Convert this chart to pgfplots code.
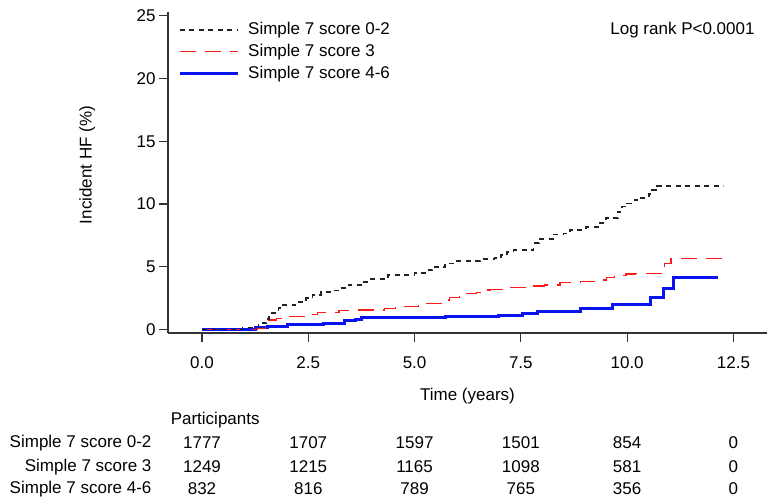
\documentclass[border=0pt]{standalone}
\usepackage{fontspec}
\setmainfont{Liberation Sans}
\usepackage{pgfplots}
\pgfplotsset{compat=1.18}
\definecolor{kmblack}{HTML}{222222}
\definecolor{kmred}{HTML}{FF1A1A}
\definecolor{kmblue}{HTML}{0A14F0}
\definecolor{axgrey}{HTML}{333333}

\begin{document}
\begin{tikzpicture}[font=\fontsize{17bp}{20bp}\selectfont]
\useasboundingbox (-168bp,-169bp) rectangle (599bp,333bp);
\begin{axis}[
  scale only axis,
  width=599bp, height=321bp,
  xmin=-0.8, xmax=13.29,
  ymin=-0.28, ymax=25.3,
  axis x line*=bottom, axis y line*=left,
  axis line style={axgrey, line width=1.1bp},
  tick style={axgrey, line width=1.1bp},
  tick align=outside,
  major tick length=9bp,
  xtick={0,2.5,5,7.5,10,12.5},
  ytick={0,5,10,15,20,25},
  x tick label style={/pgf/number format/fixed, /pgf/number format/fixed zerofill,
    /pgf/number format/precision=1, yshift=-11bp},
  /pgf/number format/assume math mode=true,
  clip=false,
  xlabel={Time (years)},
  ylabel={Incident HF (\%)},
  xlabel style={at={(axis description cs:0.5,-0.196)}, anchor=center},
  ylabel style={at={(axis description cs:-0.135,0.523)}, anchor=center},
  legend image code/.code={\draw[#1] (0bp,0bp) -- (58bp,0bp); \path (67bp,0bp);},
  legend style={at={(axis description cs:0.0167,0.972)}, anchor=north west,
    draw=none, fill=none, inner sep=0pt, row sep=5bp,
    nodes={inner sep=0pt, text height=13bp, text depth=4bp},
    cells={anchor=west}},
  reverse legend,
]
% Simple 7 score 4-6
\addplot[const plot, kmblue, line width=3bp] coordinates {
  (0,0) (1.25,0.12) (1.53,0.22) (2.0,0.36) (2.85,0.5) (3.36,0.68) (3.6,0.81)
  (3.76,0.94) (5.72,1.05) (6.97,1.15) (7.55,1.29) (7.88,1.42) (8.9,1.65)
  (9.65,2.0) (10.54,2.53) (10.85,3.23) (11.08,4.13) (12.14,4.13)};
% Simple 7 score 3
\addplot[const plot, kmred, line width=1.3bp, dash pattern=on 16bp off 9bp] coordinates {
  (0,0) (1.3,0.1) (1.5,0.2) (1.53,0.75) (1.75,0.9) (2.05,1.02) (2.58,1.2)
  (2.72,1.37) (3.22,1.5) (3.45,1.55) (4.3,1.69) (4.55,1.82) (5.1,2.09)
  (5.72,2.35) (5.82,2.57) (6.05,2.85) (6.45,2.93) (6.72,3.15) (6.78,3.2)
  (7.18,3.36) (7.72,3.47) (8.05,3.55) (8.42,3.73) (8.9,3.81) (9.26,3.94)
  (9.52,4.16) (9.7,4.29) (9.97,4.42) (10.2,4.48) (10.8,4.88) (10.88,5.27)
  (11.03,5.67) (12.26,5.67)};
% Simple 7 score 0-2
\addplot[const plot, kmblack, line width=1.7bp, dash pattern=on 5bp off 4.5bp] coordinates {
  (0,0) (0.95,0.15) (1.33,0.5) (1.52,0.85) (1.58,1.15) (1.65,1.3) (1.8,1.7)
  (1.9,1.95) (2.2,2.2) (2.45,2.5) (2.6,2.75) (2.8,2.96) (3.05,3.1) (3.2,3.28)
  (3.45,3.55) (3.78,3.8) (3.92,4.0) (4.38,4.34) (5.0,4.48) (5.28,4.74)
  (5.42,5.0) (5.72,5.27) (5.95,5.46) (6.55,5.6) (6.88,5.67) (7.03,5.94)
  (7.18,6.2) (7.33,6.33) (7.8,6.87) (7.92,7.2) (8.28,7.58) (8.5,7.66)
  (8.66,7.93) (9.03,8.14) (9.36,8.46) (9.5,8.86) (9.78,9.39) (9.88,9.8)
  (10.0,10.05) (10.17,10.3) (10.33,10.5) (10.52,10.8) (10.58,11.1)
  (10.7,11.46) (12.26,11.46)};
\legend{Simple 7 score 4-6, Simple 7 score 3, Simple 7 score 0-2}

\node[anchor=east] at (axis cs:13.08,23.86) {Log rank P<0.0001};

% numbers at risk
\node at (axis cs:0.31,-7.21) {Participants};
\node[anchor=east] at (axis cs:-1.106,-9.04) {Simple 7 score 0-2};
\node[anchor=east] at (axis cs:-1.106,-10.96) {Simple 7 score 3};
\node[anchor=east] at (axis cs:-1.106,-12.71) {Simple 7 score 4-6};
\node at (axis cs:0,-9.04) {1777};
\node at (axis cs:2.5,-9.04) {1707};
\node at (axis cs:5,-9.04) {1597};
\node at (axis cs:7.5,-9.04) {1501};
\node at (axis cs:10,-9.04) {854};
\node at (axis cs:12.5,-9.04) {0};
\node at (axis cs:0,-10.96) {1249};
\node at (axis cs:2.5,-10.96) {1215};
\node at (axis cs:5,-10.96) {1165};
\node at (axis cs:7.5,-10.96) {1098};
\node at (axis cs:10,-10.96) {581};
\node at (axis cs:12.5,-10.96) {0};
\node at (axis cs:0,-12.71) {832};
\node at (axis cs:2.5,-12.71) {816};
\node at (axis cs:5,-12.71) {789};
\node at (axis cs:7.5,-12.71) {765};
\node at (axis cs:10,-12.71) {356};
\node at (axis cs:12.5,-12.71) {0};
\end{axis}
\end{tikzpicture}
\end{document}
